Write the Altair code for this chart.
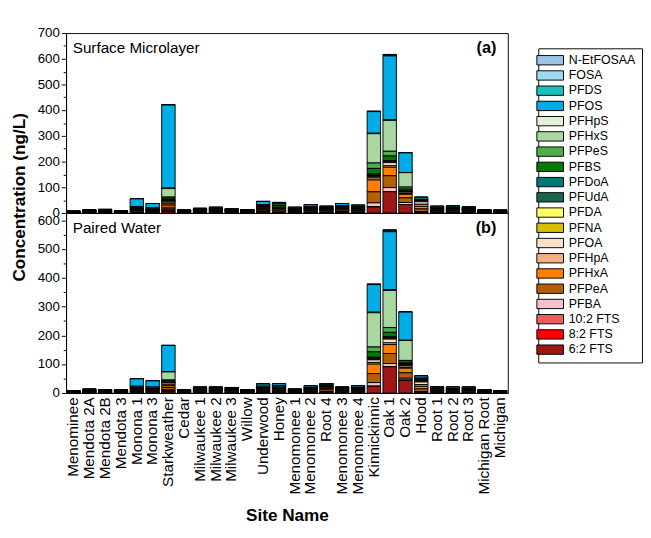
import altair as alt
import pandas as pd

FONT = "Liberation Sans"

sites = ["Menominee", "Mendota 2A", "Mendota 2B", "Mendota 3", "Monona 1", "Monona 3",
         "Starkweather", "Cedar", "Milwaukee 1", "Milwaukee 2", "Milwaukee 3", "Willow",
         "Underwood", "Honey", "Menomonee 1", "Menomonee 2", "Root 4", "Menomonee 3",
         "Menomonee 4", "Kinnickinnic", "Oak 1", "Oak 2", "Hood", "Root 1", "Root 2",
         "Root 3", "Michigan Root", "Michigan"]

compounds = ["N-EtFOSAA", "FOSA", "PFDS", "PFOS", "PFHpS", "PFHxS", "PFPeS", "PFBS",
             "PFDoA", "PFUdA", "PFDA", "PFNA", "PFOA", "PFHpA", "PFHxA", "PFPeA", "PFBA",
             "10:2 FTS", "8:2 FTS", "6:2 FTS"]

colors = ["#9DC3E6", "#9DD9F3", "#1ABFBF", "#00ADE6", "#E2F0D9", "#A8D8A0", "#4EAE4A",
          "#007A00", "#007878", "#17664C", "#FFFF66", "#D6C000", "#FBE0C8", "#F4B183",
          "#FF8000", "#B45F06", "#F4C2C8", "#EE5D5D", "#FF0000", "#A01515"]

# ---- (a) Surface Microlayer, ng/L ----
sml_NEtFOSAA = [0, 0, 0, 0, 0, 0, 1, 0, 0, 0, 0, 0, 0, 0, 0, 0, 0, 0, 0, 1, 2, 0, 0, 0, 0, 0, 0, 0]
sml_FOSA     = [0, 0, 0, 0, 0, 0, 0, 0, 0, 0, 0, 0, 0, 0, 0, 0, 0, 0, 0, 1, 2, 0, 0, 0, 0, 0, 0, 0]
sml_PFDS     = [0, 0, 0, 0, 0, 0, 0, 0, 0, 0, 0, 0, 0, 0, 0, 0, 0, 0, 0, 0, 2, 0, 0, 0, 0, 0, 0, 0]
sml_PFOS     = [1, 2, 4, 1, 30, 18, 323, 2, 3, 4, 3, 2, 12, 6, 5, 7, 4, 8, 6, 84, 248, 77, 8, 6, 5, 4, 2, 3]
sml_PFHpS    = [0, 0, 0, 0, 0, 0, 2, 0, 0, 0, 0, 0, 0, 0, 0, 0, 0, 0, 0, 2, 3, 0, 0, 0, 0, 0, 0, 0]
sml_PFHxS    = [1, 2, 2, 1, 5, 4, 33, 2, 3, 3, 2, 2, 5, 5, 3, 4, 3, 4, 4, 114, 120, 56, 3, 3, 3, 3, 2, 1]
sml_PFPeS    = [0, 0, 0, 0, 0, 0, 4, 0, 0, 0, 0, 0, 0, 2, 0, 0, 0, 0, 0, 21, 18.6, 8, 0, 0, 0, 0, 0, 0]
sml_PFBS     = [1, 2, 2, 1, 4, 3, 6, 2, 2, 3, 2, 2, 5, 8, 3, 4, 4, 5, 4, 20, 18.6, 8, 2, 3, 4, 3, 2, 1]
sml_PFDoA    = [0, 0, 0, 0, 0, 0, 2, 0, 0, 0, 0, 0, 0, 0, 0, 0, 0, 0, 0, 5, 0, 0, 0, 0, 0, 0, 0, 0]
sml_PFUdA    = [0, 0, 0, 0, 0, 0, 3, 0, 0, 0, 0, 0, 0, 0, 0, 0, 0, 0, 0, 3, 4, 4, 0, 0, 0, 0, 0, 0]
sml_PFDA     = [0, 0, 0, 0, 0, 0, 0, 0, 0, 0, 0, 0, 0, 0, 0, 0, 0, 0, 0, 2, 0, 0, 2, 0, 0, 0, 0, 0]
sml_PFNA     = [0, 0, 0, 0, 0, 0, 0, 0, 0, 0, 0, 0, 0, 0, 0, 0, 0, 0, 0, 2, 3, 0, 2, 0, 0, 0, 0, 0]
sml_PFOA     = [0.5, 1, 1, 0.5, 2, 2, 4, 1, 1, 2, 1, 1, 3, 3, 1, 2, 2, 3, 2, 5, 12, 5, 10, 2, 2, 2, 1, 1]
sml_PFHpA    = [0.5, 0.5, 0.5, 0.5, 2, 1, 5, 0.5, 1, 1, 1, 1, 2, 2, 1, 2, 1, 2, 2, 8, 6, 3, 8, 1, 1, 1, 0.5, 1]
sml_PFHxA    = [1, 1, 1, 1, 3, 2, 7, 1, 2, 2, 2, 1, 4, 4, 2, 3, 3, 4, 3, 46, 33, 14, 10, 3, 3, 3, 1, 1]
sml_PFPeA    = [1, 2, 2, 1, 4, 3, 12, 2, 3, 3, 2, 2, 6, 6, 3, 5, 4, 5, 4, 43, 46, 18, 10, 4, 4, 3, 2, 1]
sml_PFBA     = [1, 1, 1, 1, 3, 2, 4, 1, 2, 2, 2, 1, 4, 3, 2, 3, 3, 3, 3, 16, 16, 8, 3, 2, 3, 2, 1, 1]
sml_FTS102   = [0, 0, 0, 0, 0, 0, 4, 0, 0, 0, 0, 0, 0, 0, 0, 0, 0, 0, 0, 0, 0, 0, 0, 0, 0, 0, 0, 0]
sml_FTS82    = [0, 0, 0, 0, 0, 0, 5, 0, 0, 0, 0, 0, 0, 0, 0, 0, 0, 0, 0, 0, 0, 0, 0, 0, 0, 0, 0, 0]
sml_FTS62    = [0, 0.5, 0.5, 1, 2, 2, 6, 0.5, 1, 2, 1, 1, 4, 2, 2, 2, 2, 3, 2, 23.5, 83, 33, 3, 2, 2, 2, 0.5, 1]

# ---- (b) Paired Water, ng/L ----
pw_NEtFOSAA = [0, 0, 0, 0, 0, 0, 0, 0, 0, 0, 0, 0, 0, 0, 0, 0, 0, 0, 0, 1, 2, 0, 0, 0, 0, 0, 0, 0]
pw_FOSA     = [0, 0, 0, 0, 0, 0, 0, 0, 0, 0, 0, 0, 0, 0, 0, 0, 0, 0, 0, 1, 2, 0, 0, 0, 0, 0, 0, 0]
pw_PFDS     = [0, 0, 0, 0, 0, 0, 0, 0, 0, 0, 0, 0, 0, 0, 0, 0, 0, 0, 0, 0, 3, 0, 0, 0, 0, 0, 0, 0]
pw_PFOS     = [1, 2, 2, 1, 26, 22, 92, 1, 3, 3, 3, 1, 8, 8, 2, 5, 4, 3, 5, 96, 201, 98, 8, 5, 5, 4, 2, 1]
pw_PFHpS    = [0, 0, 0, 0, 0, 0, 0, 0, 0, 0, 0, 0, 0, 0, 0, 0, 0, 0, 0, 2, 3, 1, 0, 0, 0, 0, 0, 0]
pw_PFHxS    = [1, 2, 2, 1, 5, 4, 28, 2, 3, 3, 3, 2, 4, 4, 2, 3, 4, 3, 3, 119, 129, 69, 3, 3, 2, 3, 2, 1]
pw_PFPeS    = [0, 0, 0, 0, 0, 0, 3, 0, 0, 0, 0, 0, 0, 0, 0, 0, 0, 0, 0, 16.5, 16.5, 6, 0, 0, 0, 0, 0, 0]
pw_PFBS     = [1, 2, 2, 2, 4, 3, 5, 2, 3, 3, 3, 2, 4, 5, 2, 3, 4, 3, 3, 19, 16.5, 6, 3, 3, 3, 3, 2, 1]
pw_PFDoA    = [0, 0, 0, 0, 0, 0, 0, 0, 0, 0, 0, 0, 0, 0, 0, 0, 0, 0, 0, 2, 0, 0, 0, 0, 0, 0, 0, 0]
pw_PFUdA    = [0, 0, 0, 0, 0, 0, 2, 0, 0, 0, 0, 0, 0, 0, 0, 0, 0, 0, 0, 3, 4, 4, 2, 0, 0, 0, 0, 0]
pw_PFDA     = [0, 0, 0, 0, 0, 0, 0, 0, 0, 0, 0, 0, 0, 0, 0, 0, 0, 0, 0, 2, 0, 0, 2, 0, 0, 0, 0, 0]
pw_PFNA     = [0, 0, 0, 0, 0, 0, 0, 0, 0, 0, 0, 0, 0, 0, 0, 0, 0, 0, 0, 2, 3, 3, 3, 0, 0, 0, 0, 0]
pw_PFOA     = [0.5, 1, 1, 1, 2, 2, 5, 1, 2, 2, 1, 1, 2, 2, 1, 2, 3, 2, 2, 9, 13, 5, 9, 2, 1, 1, 1, 1]
pw_PFHpA    = [0.5, 1, 0.5, 0.5, 1, 1, 5, 0.5, 1, 1, 1, 0.5, 2, 2, 0.5, 1, 2, 1, 1, 6, 6, 3, 6, 1, 1, 1, 0.5, 0.5]
pw_PFHxA    = [1, 2, 1, 1, 3, 3, 6, 1, 2, 2, 2, 1, 3, 3, 1, 3, 4, 2, 2, 33, 31, 16, 9, 2, 2, 2, 1, 1]
pw_PFPeA    = [1, 2, 2, 2, 4, 3, 8, 2, 3, 3, 3, 2, 4, 4, 2, 3, 6, 3, 4, 31, 35, 19, 9, 3, 3, 3, 1, 1]
pw_PFBA     = [1, 1, 1, 1, 2, 2, 3, 1, 2, 2, 2, 1, 2, 2, 1, 2, 3, 2, 2, 13, 11, 7, 3, 2, 2, 2, 1, 1]
pw_FTS102   = [0, 0, 0, 0, 0, 0, 2, 0, 0, 0, 0, 0, 0, 0, 0, 0, 0, 0, 0, 0, 0, 0, 0, 0, 0, 0, 0, 0]
pw_FTS82    = [0, 0, 0, 0, 0, 0, 2, 0, 0, 0, 0, 0, 0, 0, 0, 0, 0, 0, 0, 0, 0, 0, 0, 0, 0, 0, 0, 0]
pw_FTS62    = [0, 0, 0.5, 0.5, 2, 2, 4, 0.5, 1, 1, 1, 0.5, 2, 2, 1.5, 2, 2, 1, 2, 23, 91, 44, 2, 1, 1, 1, 0.5, 0.5]

sml_series = [sml_NEtFOSAA, sml_FOSA, sml_PFDS, sml_PFOS, sml_PFHpS, sml_PFHxS, sml_PFPeS,
              sml_PFBS, sml_PFDoA, sml_PFUdA, sml_PFDA, sml_PFNA, sml_PFOA, sml_PFHpA,
              sml_PFHxA, sml_PFPeA, sml_PFBA, sml_FTS102, sml_FTS82, sml_FTS62]
pw_series = [pw_NEtFOSAA, pw_FOSA, pw_PFDS, pw_PFOS, pw_PFHpS, pw_PFHxS, pw_PFPeS,
             pw_PFBS, pw_PFDoA, pw_PFUdA, pw_PFDA, pw_PFNA, pw_PFOA, pw_PFHpA,
             pw_PFHxA, pw_PFPeA, pw_PFBA, pw_FTS102, pw_FTS82, pw_FTS62]

ticks_a = [0, 100, 200, 300, 400, 500, 600, 700]
minor_a = [50, 150, 250, 350, 450, 550, 650]
ticks_b = [0, 100, 200, 300, 400, 500, 600]
minor_b = [50, 150, 250, 350, 450, 550]


def long_table(series):
    rows = []
    for ci, (comp, vals) in enumerate(zip(compounds, series)):
        for site, v in zip(sites, vals):
            rows.append({"site": site, "compound": comp, "value": v,
                         "rank": len(compounds) - 1 - ci})
    return pd.DataFrame(rows)


W, H = 464, 189


def panel(df, domain, ticks, minor, label, tag, bottom):
    yscale = alt.Scale(domain=domain, nice=False, zero=True)
    if bottom:
        xaxis = alt.Axis(title="Site Name", labelAngle=270, labelAlign="right",
                         labelBaseline="middle", labelFontSize=16, labelPadding=4,
                         ticks=False, titleFontSize=18, titleFontWeight="bold",
                         titlePadding=14, labelColor="black", titleColor="black")
        yaxis = alt.Axis(values=ticks, title="Concentration (ng/L)", titleX=-40,
                         titleY=-17, titleFontSize=18, titleFontWeight="bold",
                         grid=False, tickSize=5, labelFontSize=14, labelPadding=2)
    else:
        xaxis = None
        yaxis = alt.Axis(values=ticks, title=None, grid=False, tickSize=5,
                         labelFontSize=14, labelPadding=2)
    bars = alt.Chart(df).mark_bar(stroke="black", strokeWidth=1).encode(
        x=alt.X("site:N", sort=sites, axis=xaxis,
                scale=alt.Scale(paddingInner=0.15, paddingOuter=0.05)),
        y=alt.Y("value:Q", stack="zero", scale=yscale, axis=yaxis),
        color=alt.Color("compound:N", scale=alt.Scale(domain=compounds, range=colors),
                        legend=alt.Legend(title=None, orient="none", legendX=496,
                                          legendY=16)),
        order=alt.Order("rank:Q", sort="ascending"),
    )
    minor_layer = alt.Chart(pd.DataFrame({"v": [0]})).mark_point(opacity=0).encode(
        y=alt.Y("v:Q", scale=yscale,
                axis=alt.Axis(values=minor, labels=False, domain=False, grid=False,
                              tickSize=3, title=None, orient="left"))
    )
    txt = alt.Chart(pd.DataFrame({"t": [label]})).mark_text(
        align="left", baseline="middle", fontSize=16, font=FONT, color="black"
    ).encode(x=alt.value(7), y=alt.value(16), text="t:N")
    tg = alt.Chart(pd.DataFrame({"t": [tag]})).mark_text(
        align="right", baseline="middle", fontSize=17, font=FONT, fontWeight="bold",
        color="black"
    ).encode(x=alt.value(W - 12), y=alt.value(16), text="t:N")
    return alt.layer(bars, minor_layer, txt, tg).resolve_axis(y="independent").properties(
        width=W, height=H)


top = panel(long_table(sml_series), [0, 700], ticks_a, minor_a,
            "Surface Microlayer", "(a)", False)
bottom = panel(long_table(pw_series), [0, 625], ticks_b, minor_b,
               "Paired Water", "(b)", True)

chart = alt.vconcat(top, bottom, spacing=0, bounds="flush").properties(
    padding={"left": 2, "top": 5, "right": 0, "bottom": 0}
).configure_view(
    stroke="black", strokeWidth=1
).configure_axis(
    labelFont=FONT, titleFont=FONT, domainColor="black", tickColor="black",
    labelColor="black", titleColor="black", domainWidth=1, tickWidth=1
).configure_legend(
    labelFont=FONT, labelFontSize=13, labelColor="black",
    symbolType="M-2.8,-0.98H2.8V0.98H-2.8Z", symbolSize=100, symbolStrokeColor="black",
    symbolStrokeWidth=1, symbolOpacity=1, symbolFillColor="white",
    strokeColor="black", padding=6, rowPadding=1, labelOffset=13, cornerRadius=0
)

chart.save("out.html", embed_options={"renderer": "svg", "actions": False})
